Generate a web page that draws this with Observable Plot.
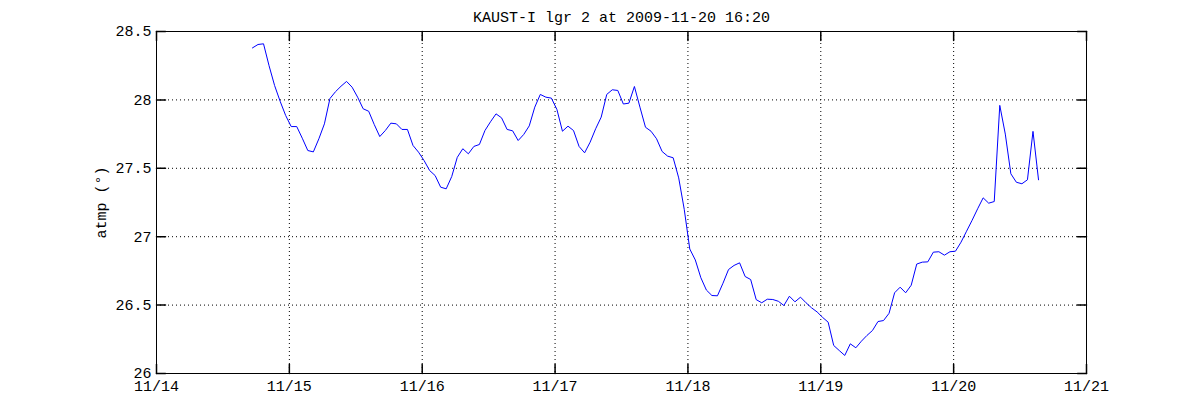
<!DOCTYPE html>
<html><head><meta charset="utf-8">
<script src="https://cdn.jsdelivr.net/npm/d3@7"></script>
<script src="https://cdn.jsdelivr.net/npm/@observablehq/plot@0.6"></script>
<style>body{margin:0;background:#fff} #chart svg{display:block}</style>
</head><body><div id="chart"></div>
<script>
const title = "KAUST-I lgr 2 at 2009-11-20 16:20";
const yLabel = "atmp (°)";
// hourly samples starting at this time (UTC)
const startTime = "2009-11-14T17:20:00Z";
const atmp = [
  28.38, 28.405, 28.41, 28.25, 28.105, 27.99, 27.886, 27.805, 27.805, 27.72,
  27.63, 27.62, 27.716, 27.825, 28.01, 28.06, 28.10, 28.135, 28.093, 28.02,
  27.935, 27.917, 27.82, 27.732, 27.776, 27.83, 27.825, 27.784, 27.784, 27.667,
  27.618, 27.557, 27.484, 27.447, 27.362, 27.35, 27.44, 27.58, 27.643, 27.606,
  27.66, 27.674, 27.776, 27.84, 27.898, 27.869, 27.784, 27.774, 27.703, 27.747,
  27.81, 27.947, 28.04, 28.02, 28.013, 27.93, 27.771, 27.808, 27.776, 27.66,
  27.613, 27.691, 27.789, 27.874, 28.04, 28.074, 28.069, 27.97, 27.976, 28.098,
  27.947, 27.80, 27.771, 27.716, 27.623, 27.589, 27.577, 27.43, 27.2, 26.91,
  26.83, 26.70, 26.61, 26.57, 26.568, 26.66, 26.76, 26.79, 26.809, 26.709,
  26.687, 26.54, 26.517, 26.543, 26.541, 26.528, 26.497, 26.565, 26.524, 26.558,
  26.517, 26.48, 26.45, 26.41, 26.375, 26.205, 26.168, 26.132, 26.217, 26.188,
  26.236, 26.278, 26.314, 26.38, 26.387, 26.44, 26.59, 26.631, 26.59, 26.645,
  26.80, 26.814, 26.816, 26.887, 26.89, 26.865, 26.89, 26.894, 26.96, 27.04,
  27.12, 27.204, 27.284, 27.245, 27.257, 27.96, 27.75, 27.46, 27.398, 27.387,
  27.416, 27.77, 27.416
];
const xTickDates = ["2009-11-14", "2009-11-15", "2009-11-16", "2009-11-17", "2009-11-18", "2009-11-19", "2009-11-20", "2009-11-21"];
const xTickLabels = ["11/14", "11/15", "11/16", "11/17", "11/18", "11/19", "11/20", "11/21"];
const yTicks = [26, 26.5, 27, 27.5, 28, 28.5];
const yTickLabels = ["26", "26.5", "27", "27.5", "28", "28.5"];

const t0 = new Date(startTime);
const data = atmp.map((v, i) => ({time: new Date(+t0 + i * 3600e3), value: v}));
const xTicks = xTickDates.map(d => new Date(d + "T00:00:00Z"));
const xLabelOf = new Map(xTicks.map((d, i) => [+d, xTickLabels[i]]));
const yLabelOf = new Map(yTicks.map((d, i) => [d, yTickLabels[i]]));

const FONT = "Liberation Mono, DejaVu Sans Mono, monospace";
const tickShape = {draw(context, l) { context.moveTo(0, 0); context.lineTo(0, -l); }};
const tickLen = 9;

const chart = Plot.plot({
  width: 1200,
  height: 420,
  marginLeft: 156,
  marginRight: 114,
  marginTop: 31,
  marginBottom: 47,
  style: {fontFamily: FONT, fontSize: "15px", color: "black", background: "white"},
  x: {type: "utc", domain: [xTicks[0], xTicks[xTicks.length - 1]]},
  y: {domain: [26, 28.5]},
  marks: [
    Plot.gridX(xTicks, {stroke: "black", strokeOpacity: 1, strokeDasharray: "1,3"}),
    Plot.gridY(yTicks, {stroke: "black", strokeOpacity: 1, strokeDasharray: "1,3"}),
    Plot.line(data, {x: "time", y: "value", stroke: "#0000ff", strokeWidth: 1}),
    Plot.vector(xTicks, {x: d => d, frameAnchor: "bottom", length: tickLen, rotate: 0, anchor: "start", shape: tickShape, stroke: "black"}),
    Plot.vector(xTicks, {x: d => d, frameAnchor: "top", length: tickLen, rotate: 180, anchor: "start", shape: tickShape, stroke: "black"}),
    Plot.vector(yTicks, {y: d => d, frameAnchor: "left", length: tickLen, rotate: 90, anchor: "start", shape: tickShape, stroke: "black"}),
    Plot.vector(yTicks, {y: d => d, frameAnchor: "right", length: tickLen, rotate: -90, anchor: "start", shape: tickShape, stroke: "black"}),
    Plot.frame({stroke: "black"}),
    Plot.axisX(xTicks, {anchor: "bottom", tickSize: 0, tickPadding: 7, tickFormat: d => xLabelOf.get(+d), label: null, fill: "black"}),
    Plot.axisY(yTicks, {anchor: "left", tickSize: 0, tickPadding: 5, tickFormat: d => yLabelOf.get(d), label: null, fill: "black"}),
    Plot.text([yLabel], {frameAnchor: "left", dx: -55, rotate: -90, textAnchor: "middle", lineAnchor: "middle", fill: "black"}),
    Plot.text([title], {frameAnchor: "top", dy: -10, lineAnchor: "bottom", textAnchor: "middle", fill: "black"})
  ]
});
document.getElementById("chart").appendChild(chart);
</script>
</body></html>
